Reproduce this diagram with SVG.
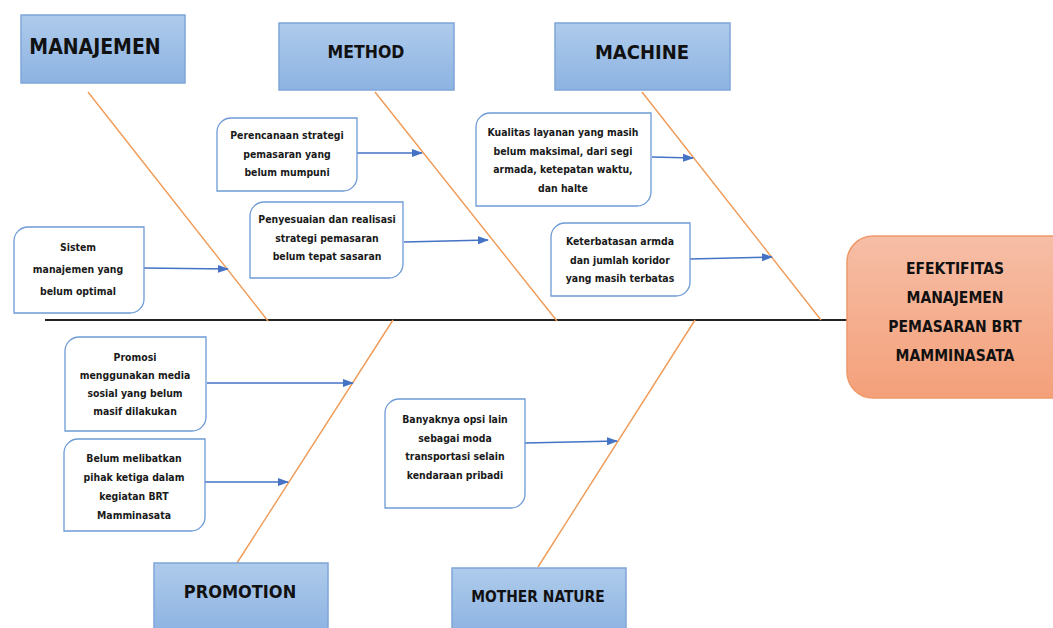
<svg xmlns="http://www.w3.org/2000/svg" width="1053" height="628" viewBox="0 0 1053 628">
<defs>
<linearGradient id="gBlue" x1="0" y1="0" x2="0" y2="1"><stop offset="0" stop-color="#aecbeb"/><stop offset="1" stop-color="#8db3e2"/></linearGradient>
<linearGradient id="gOrange" x1="0" y1="0" x2="0" y2="1"><stop offset="0" stop-color="#f6bea6"/><stop offset="1" stop-color="#f4a07a"/></linearGradient>
<marker id="arr" markerWidth="11" markerHeight="10" refX="10" refY="5" orient="auto" markerUnits="userSpaceOnUse"><path d="M0,1 L11,5 L0,9 Z" fill="#4472c4"/></marker>
<style>
.hdr{fill:url(#gBlue);stroke:#7fa6d8;stroke-width:1.5}
.hdrt{font-family:"Liberation Sans Narrow","DejaVu Sans Condensed","Liberation Sans",sans-serif;font-weight:bold;fill:#111;text-anchor:middle}
.cause{fill:#fff;stroke:#6d9bd6;stroke-width:1.3}
.ct{font-family:"Liberation Sans Narrow","DejaVu Sans Condensed","Liberation Sans",sans-serif;font-weight:bold;font-size:10.4px;fill:#1a1a1a;text-anchor:middle}
.bone{stroke:#f09a55;stroke-width:1.4;fill:none}
.spine{stroke:#222;stroke-width:2;fill:none}
.arrow{stroke:#4472c4;stroke-width:1.5;fill:none;marker-end:url(#arr)}
.eff{fill:url(#gOrange);stroke:#f0996a;stroke-width:1.5}
.efft{font-family:"Liberation Sans Narrow","DejaVu Sans Condensed","Liberation Sans",sans-serif;font-weight:bold;font-size:15.5px;fill:#111;text-anchor:middle}
</style>
</defs>
<rect width="1053" height="628" fill="#fff"/>

<g id="connectors">
<line class="spine" x1="45" y1="320" x2="848" y2="320"/>
<line class="bone" x1="88" y1="92" x2="268" y2="321"/>
<line class="bone" x1="375" y1="92" x2="557" y2="321"/>
<line class="bone" x1="642" y1="92" x2="821" y2="320"/>
<line class="bone" x1="237" y1="563" x2="393" y2="320"/>
<line class="bone" x1="538" y1="567" x2="695" y2="320"/>
<line class="arrow" x1="144" y1="268" x2="228" y2="269"/>
<line class="arrow" x1="357" y1="153" x2="422" y2="153"/>
<line class="arrow" x1="404" y1="242" x2="488" y2="240"/>
<line class="arrow" x1="652" y1="157" x2="693" y2="158"/>
<line class="arrow" x1="690" y1="259" x2="772" y2="257"/>
<line class="arrow" x1="207" y1="383" x2="353" y2="383"/>
<line class="arrow" x1="205" y1="482" x2="288" y2="482"/>
<line class="arrow" x1="525" y1="443" x2="617" y2="441"/>
</g>

<g id="hdr-manajemen"><rect class="hdr" x="21" y="15" width="164" height="68"/><text class="hdrt" x="95" y="54" font-size="21">MANAJEMEN</text></g>
<g id="hdr-method"><rect class="hdr" x="279" y="23" width="175" height="67"/><text class="hdrt" x="366" y="58" font-size="17.5">METHOD</text></g>
<g id="hdr-machine"><rect class="hdr" x="555" y="23" width="175" height="67"/><text class="hdrt" x="642" y="59" font-size="20">MACHINE</text></g>
<g id="hdr-promotion"><rect class="hdr" x="154" y="563" width="174" height="70"/><text class="hdrt" x="240" y="598" font-size="18">PROMOTION</text></g>
<g id="hdr-mothernature"><rect class="hdr" x="452" y="568" width="174" height="65"/><text class="hdrt" x="538" y="602" font-size="15.4">MOTHER NATURE</text></g>

<g id="c-sistem"><path class="cause" d="M28 227 H144 V299 A14 14 0 0 1 130 313 H14 V241 A14 14 0 0 1 28 227 Z"/>
<text class="ct" x="78" y="251">Sistem</text><text class="ct" x="78" y="273">manajemen yang</text><text class="ct" x="78" y="295">belum optimal</text></g>

<g id="c-perencanaan"><path class="cause" d="M231 118 H357 V177 A14 14 0 0 1 343 191 H217 V132 A14 14 0 0 1 231 118 Z"/>
<text class="ct" x="287" y="139">Perencanaan strategi</text><text class="ct" x="287" y="158">pemasaran yang</text><text class="ct" x="287" y="176">belum mumpuni</text></g>

<g id="c-penyesuaian"><path class="cause" d="M264 202 H403 V264 A14 14 0 0 1 389 278 H250 V216 A14 14 0 0 1 264 202 Z"/>
<text class="ct" x="327" y="223">Penyesuaian dan realisasi</text><text class="ct" x="327" y="242">strategi pemasaran</text><text class="ct" x="327" y="260">belum tepat sasaran</text></g>

<g id="c-kualitas"><path class="cause" d="M490 113 H651 V192 A14 14 0 0 1 637 206 H476 V127 A14 14 0 0 1 490 113 Z"/>
<text class="ct" x="563" y="136">Kualitas layanan yang masih</text><text class="ct" x="563" y="155">belum maksimal, dari segi</text><text class="ct" x="563" y="173">armada, ketepatan waktu,</text><text class="ct" x="563" y="192">dan halte</text></g>

<g id="c-keterbatasan"><path class="cause" d="M565 223 H690 V282 A14 14 0 0 1 676 296 H551 V237 A14 14 0 0 1 565 223 Z"/>
<text class="ct" x="620" y="245">Keterbatasan armda</text><text class="ct" x="620" y="264">dan jumlah koridor</text><text class="ct" x="620" y="282">yang masih terbatas</text></g>

<g id="c-promosi"><path class="cause" d="M79 337 H206 V417 A14 14 0 0 1 192 431 H65 V351 A14 14 0 0 1 79 337 Z"/>
<text class="ct" x="135" y="361">Promosi</text><text class="ct" x="135" y="379">menggunakan media</text><text class="ct" x="135" y="397">sosial yang belum</text><text class="ct" x="135" y="415">masif dilakukan</text></g>

<g id="c-melibatkan"><path class="cause" d="M78 439 H205 V517 A14 14 0 0 1 191 531 H64 V453 A14 14 0 0 1 78 439 Z"/>
<text class="ct" x="134" y="462">Belum melibatkan</text><text class="ct" x="134" y="481">pihak ketiga dalam</text><text class="ct" x="134" y="500">kegiatan BRT</text><text class="ct" x="134" y="519">Mamminasata</text></g>

<g id="c-banyaknya"><path class="cause" d="M399 399 H525 V494 A14 14 0 0 1 511 508 H385 V413 A14 14 0 0 1 399 399 Z"/>
<text class="ct" x="455" y="423">Banyaknya opsi lain</text><text class="ct" x="455" y="442">sebagai moda</text><text class="ct" x="455" y="460">transportasi selain</text><text class="ct" x="455" y="479">kendaraan pribadi</text></g>

<g id="effect"><rect class="eff" x="847" y="236" width="230" height="162" rx="26" ry="26"/>
<text class="efft" x="955" y="274">EFEKTIFITAS</text><text class="efft" x="955" y="303">MANAJEMEN</text><text class="efft" x="955" y="332">PEMASARAN BRT</text><text class="efft" x="955" y="361">MAMMINASATA</text></g>
</svg>
